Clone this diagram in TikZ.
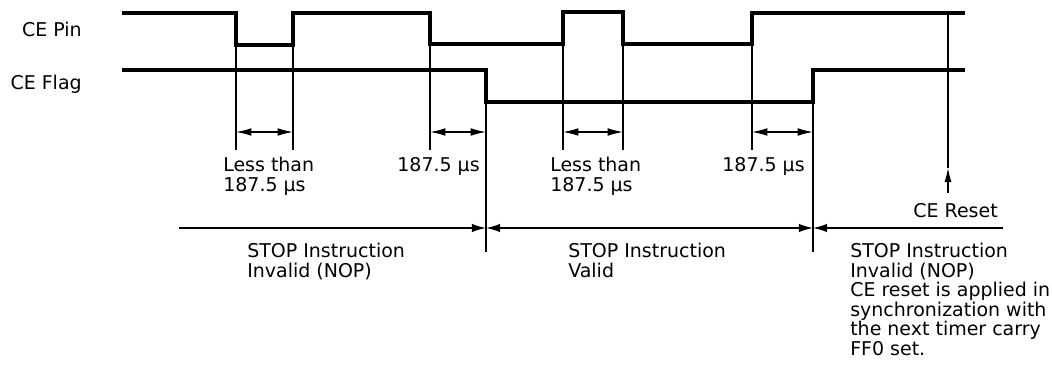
\documentclass[tikz,border=0pt]{standalone}
\usepackage{fontspec}
\setmainfont{DejaVu Sans}
\usetikzlibrary{arrows.meta,positioning}
\tikzset{
  wave/.style={line width=2.2pt, line join=miter},
  guide/.style={line width=0.8pt},
  barline/.style={line width=1pt},
  dimarrow/.style={line width=0.8pt,
    {Latex[length=11pt,width=5.5pt]}-{Latex[length=11pt,width=5.5pt]}},
  lbl/.style={inner sep=0pt, align=left,
    font=\fontsize{13.5}{13.9}\selectfont},
  siglbl/.style={inner sep=0pt, anchor=base east,
    font=\fontsize{13.5}{13.9}\selectfont}
}

\begin{document}
\begin{tikzpicture}[x=0.025cm,y=-0.025cm,
    >={Latex[length=10pt,width=6pt]}]
  \useasboundingbox (0,0) rectangle (1052,365);

  % signal names
  \node[siglbl] (pinlbl)  at (82,37) {CE Pin};
  \node[siglbl] (flaglbl) at (82,90) {CE Flag};

  % waveforms
  \draw[wave] (122,13) -| (236,45) -| (293,13) -| (430,44) -| (563,12)
    -| (623,44) -| (752,13) -- (965,13);
  \draw[wave] (122,70) -| (486,102) -| (813,70) -- (965,70);

  % edge marks and widths
  \foreach \xe in {236,293,430,563,623,752}
    \draw[guide] (\xe,44) -- (\xe,150);
  \foreach \xa/\xb in {236/293,430/486,563/623,752/813}
    \draw[dimarrow] (\xa,132) -- (\xb,132);

  % state bar
  \coordinate (barL)  at (179,228);
  \coordinate (stop1) at (486,228);
  \coordinate (stop2) at (813,228);
  \coordinate (barR)  at (1003,228);
  \draw[guide] (486,102) -- (486,252);
  \draw[guide] (813,102) -- (813,252);
  \draw[barline,->] (barL) -- (stop1);
  \draw[barline,<->] (stop1) -- (stop2);
  \draw[barline,<-] (stop2) -- (barR);

  % CE reset
  \coordinate (rtop) at (948,13);
  \coordinate (rtip) at (948,168);
  \coordinate (rbot) at (948,193);
  \draw[guide] (rtop) -- (rtip);
  \draw[guide,-{Latex[length=10pt,width=5pt]}] (rbot) -- (rtip);

  % labels
  \node[lbl, anchor=north west] (less1) at (223,157) {Less than\\187.5 μs};
  \node[lbl, anchor=north east] (us1)   at (480,157) {187.5 μs};
  \node[lbl, anchor=north west] (less2) at (550,157) {Less than\\187.5 μs};
  \node[lbl, anchor=north east] (us2)   at (805,157) {187.5 μs};
  \node[lbl, anchor=north east] (rst)   at (998,203) {CE Reset};
  \node[lbl, anchor=north west] (nop1)  at (247,243) {STOP Instruction\\Invalid (NOP)};
  \node[lbl, anchor=north west] (valid) at (568,243) {STOP Instruction\\Valid};
  \node[lbl, anchor=north west] (nop2)  at (850,243) {STOP Instruction\\Invalid (NOP)\\CE reset is applied in\\synchronization with\\the next timer carry\\FF0 set.};
\end{tikzpicture}
\end{document}
